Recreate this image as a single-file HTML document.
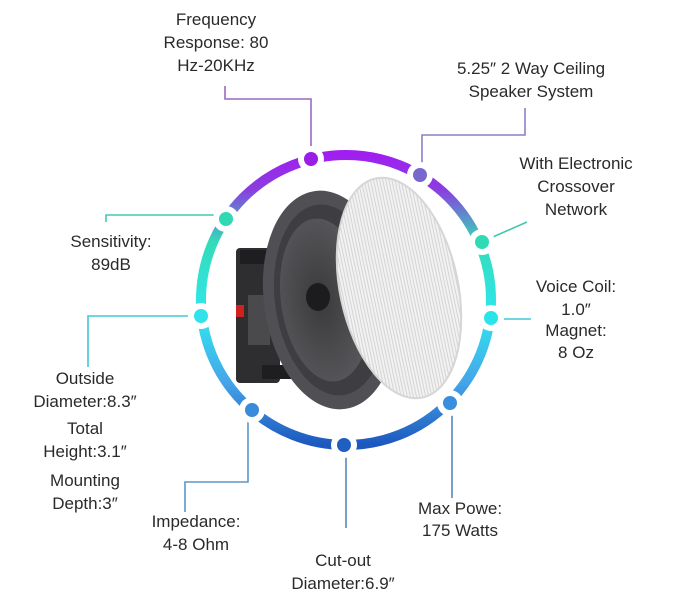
<!DOCTYPE html>
<html><head><meta charset="utf-8"><style>
html,body{margin:0;padding:0;background:#fff;}
svg{display:block;}
text{font-family:"Liberation Sans",sans-serif;font-size:17px;fill:#2a2a2a;text-anchor:middle;}
</style></head><body>
<svg width="690" height="615" viewBox="0 0 690 615" xmlns="http://www.w3.org/2000/svg">
<defs>
<linearGradient id="rg" gradientUnits="userSpaceOnUse" x1="0" y1="155" x2="0" y2="445">
<stop offset="0" stop-color="#a01ff0"/>
<stop offset="0.12" stop-color="#8a3ee0"/>
<stop offset="0.3" stop-color="#32dcb8"/>
<stop offset="0.55" stop-color="#30e6ee"/>
<stop offset="0.78" stop-color="#45a6ea"/>
<stop offset="1" stop-color="#1c58bd"/>
</linearGradient>
<radialGradient id="cone" cx="0.45" cy="0.5" r="0.6">
<stop offset="0" stop-color="#3a3a3c"/><stop offset="1" stop-color="#5a5a5e"/>
</radialGradient>
<pattern id="grill" width="3" height="3" patternUnits="userSpaceOnUse">
<rect width="3" height="3" fill="#f2f2f2"/><rect width="1" height="3" fill="#d4d4d4"/>
</pattern>
</defs>
<g fill="none" stroke-width="1.6">
<polyline points="225,86 225,99 311,99 311,152" stroke="#9a6ac0"/>
<polyline points="525,108 525,135 422,135 422,170" stroke="#8a80c8"/>
<polyline points="527,222 486,240" stroke="#40c8b0"/>
<polyline points="106,222 106,215 225,215" stroke="#40c8b8"/>
<polyline points="88,367 88,316 200,316" stroke="#40c8d8"/>
<polyline points="492,319 531,319" stroke="#40c8d8"/>
<polyline points="185,512 185,482 248,482 248,410" stroke="#5a98c8"/>
<polyline points="346,443 346,528" stroke="#5a88b8"/>
<polyline points="452,403 452,498" stroke="#5a88b8"/>
</g>
<rect x="236" y="248" width="44" height="135" rx="4" fill="#2e2e30"/>
<rect x="240" y="250" width="40" height="14" fill="#1e1e20"/>
<rect x="262" y="365" width="40" height="14" fill="#1e1e20"/>
<rect x="236" y="305" width="8" height="12" fill="#d02020"/>
<rect x="248" y="295" width="22" height="50" fill="#4a4a4c"/>
<ellipse cx="330" cy="300" rx="66" ry="110" transform="rotate(-8 330 300)" fill="#505054"/>
<ellipse cx="330" cy="300" rx="55" ry="96" transform="rotate(-8 330 300)" fill="#3e3e42"/>
<ellipse cx="325" cy="300" rx="44" ry="82" transform="rotate(-8 325 300)" fill="url(#cone)"/>
<ellipse cx="318" cy="297" rx="12" ry="14" fill="#1c1c1e"/>
<ellipse cx="399" cy="288" rx="59" ry="112" transform="rotate(-12 399 288)" fill="url(#grill)" stroke="#d6d6d6" stroke-width="2"/>
<circle cx="346" cy="300" r="145" fill="none" stroke="url(#rg)" stroke-width="10"/>
<g fill="#fff">
<circle cx="311" cy="159" r="13"/><circle cx="420" cy="175" r="13"/><circle cx="482" cy="242" r="13"/>
<circle cx="491" cy="318" r="13"/><circle cx="450" cy="403" r="13"/><circle cx="344" cy="445" r="13"/>
<circle cx="252" cy="410" r="13"/><circle cx="201" cy="316" r="13"/><circle cx="226" cy="219" r="13"/>
</g>
<g>
<circle cx="311" cy="159" r="7" fill="#9a1ee6"/>
<circle cx="420" cy="175" r="7" fill="#7668cc"/>
<circle cx="482" cy="242" r="7" fill="#2edbb4"/>
<circle cx="491" cy="318" r="7" fill="#2ae4ea"/>
<circle cx="450" cy="403" r="7" fill="#3a8ede"/>
<circle cx="344" cy="445" r="7" fill="#1f5fbf"/>
<circle cx="252" cy="410" r="7" fill="#3a8adc"/>
<circle cx="201" cy="316" r="7" fill="#30e2ea"/>
<circle cx="226" cy="219" r="7" fill="#30d8b4"/>
</g>
<text x="216" y="25">Frequency</text>
<text x="216" y="48">Response: 80</text>
<text x="216" y="71">Hz-20KHz</text>
<text x="531" y="74">5.25″ 2 Way Ceiling</text>
<text x="531" y="97">Speaker System</text>
<text x="576" y="169">With Electronic</text>
<text x="576" y="192">Crossover</text>
<text x="576" y="215">Network</text>
<text x="111" y="247">Sensitivity:</text>
<text x="111" y="270">89dB</text>
<text x="576" y="292">Voice Coil:</text>
<text x="576" y="315">1.0″</text>
<text x="576" y="336">Magnet:</text>
<text x="576" y="358">8 Oz</text>
<text x="85" y="384">Outside</text>
<text x="85" y="407">Diameter:8.3″</text>
<text x="85" y="434">Total</text>
<text x="85" y="457">Height:3.1″</text>
<text x="85" y="486">Mounting</text>
<text x="85" y="509">Depth:3″</text>
<text x="196" y="527">Impedance:</text>
<text x="196" y="550">4-8 Ohm</text>
<text x="460" y="514">Max Powe:</text>
<text x="460" y="536">175 Watts</text>
<text x="343" y="566">Cut-out</text>
<text x="343" y="589">Diameter:6.9″</text>
</svg>
</body></html>
